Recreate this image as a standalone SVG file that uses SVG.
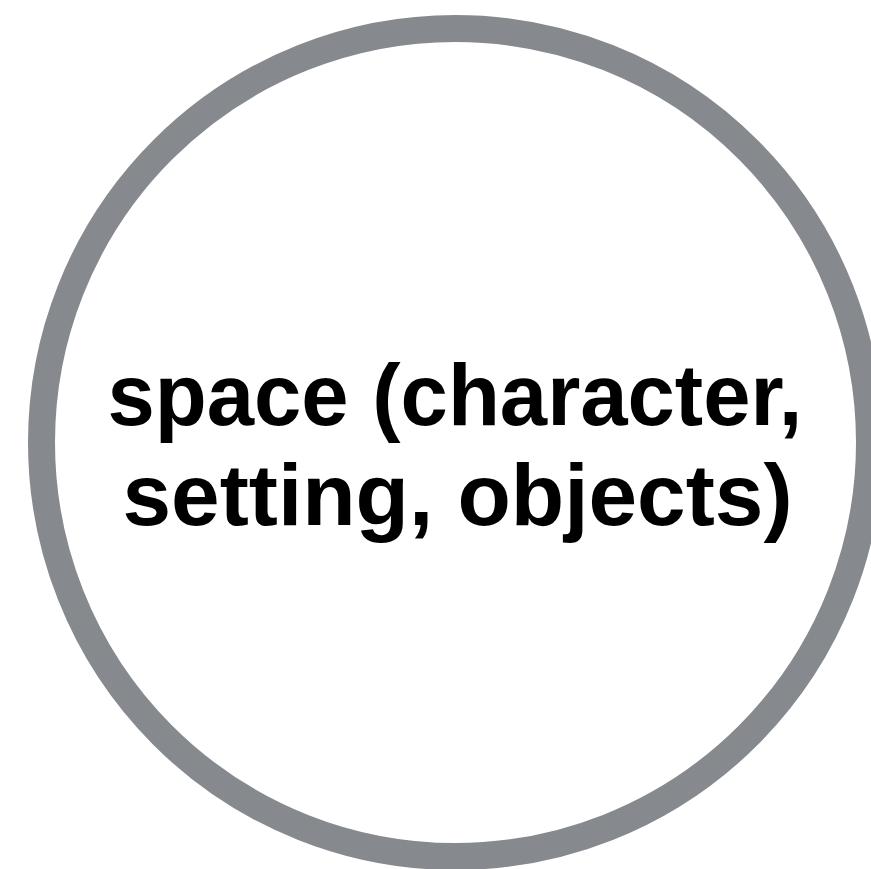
<svg xmlns="http://www.w3.org/2000/svg" width="871" height="869" viewBox="0 0 871 869">
<style>
.ring{fill:#ffffff;stroke:#86898e;stroke-width:27}
.lbl{font-family:"Liberation Sans",Arial,sans-serif;font-weight:bold;font-size:88px;fill:#000000;text-anchor:middle}
</style>
<rect width="871" height="869" fill="#ffffff"/>
<g id="node-space">
<circle class="ring" cx="455.5" cy="442.5" r="414"/>
<text class="lbl" x="455" y="425" textLength="695" lengthAdjust="spacingAndGlyphs">space (character,</text>
<text class="lbl" x="457.5" y="525" textLength="670" lengthAdjust="spacingAndGlyphs">setting, objects)</text>
</g>
<g id="connectors"></g>
</svg>
